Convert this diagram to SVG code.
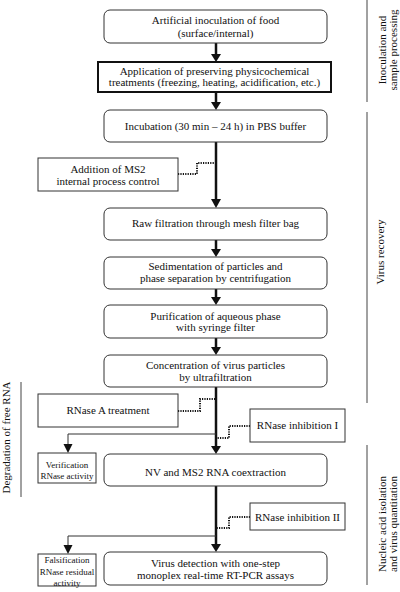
<svg xmlns="http://www.w3.org/2000/svg" width="400" height="592" viewBox="0 0 400 592">
<style>
text{font-family:"Liberation Serif","Times New Roman",serif;font-size:11px;fill:#111;text-anchor:middle}
.s{font-size:9px}
.box{fill:#fff;stroke:#333;stroke-width:1}
.thick{fill:#fff;stroke:#111;stroke-width:2}
.main{stroke:#111;stroke-width:2.5;fill:none}
.thin{stroke:#333;stroke-width:1;fill:none}
.dot{stroke:#111;stroke-width:2;fill:none;stroke-dasharray:1.2,1.2}
.br{stroke:#444;stroke-width:1}
.head{fill:#111}
</style>
<rect width="400" height="592" fill="#fff"/>
<g id="connectors">
<line class="main" x1="216" y1="43" x2="216" y2="55"/>
<polygon class="head" points="211,54 221,54 216,62"/>
<line class="main" x1="216" y1="92" x2="216" y2="103"/>
<polygon class="head" points="211,102 221,102 216,110"/>
<line class="main" x1="216" y1="142" x2="216" y2="200"/>
<polygon class="head" points="211,199 221,199 216,208"/>
<line class="main" x1="216" y1="240" x2="216" y2="250"/>
<polygon class="head" points="211,249 221,249 216,257"/>
<line class="main" x1="216" y1="289" x2="216" y2="298"/>
<polygon class="head" points="211,297 221,297 216,305"/>
<line class="main" x1="216" y1="338" x2="216" y2="348"/>
<polygon class="head" points="211,347 221,347 216,355"/>
<line class="main" x1="216" y1="387" x2="216" y2="447"/>
<polygon class="head" points="211,446 221,446 216,454"/>
<line class="main" x1="216" y1="486" x2="216" y2="545"/>
<polygon class="head" points="211,544 221,544 216,552"/>
<polyline class="thin" points="216,434 68,434 68,445"/>
<polygon class="head" points="63.5,444 72.5,444 68,453"/>
<polyline class="thin" points="216,536 68,536 68,546"/>
<polygon class="head" points="63.5,545 72.5,545 68,554"/>
<path class="dot" d="M178,174 H197 V163 H215"/>
<path class="dot" d="M178,411 H200 V399 H215"/>
<path class="dot" d="M250,426 H229 V438 H217"/>
<path class="dot" d="M250,517 H229 V528 H217"/>
</g>
<g id="n1"><rect class="box" x="104" y="10" width="223" height="33" rx="6"/><text x="215.5" y="24">Artificial inoculation of food</text><text x="215.5" y="37">(surface/internal)</text></g>
<g id="n2"><rect class="thick" x="98" y="62" width="233" height="30"/><text x="214.5" y="74.5">Application of preserving physicochemical</text><text x="214.5" y="86">treatments (freezing, heating, acidification, etc.)</text></g>
<g id="n3"><rect class="box" x="104" y="110" width="223" height="32" rx="6"/><text x="215.5" y="130">Incubation (30 min – 24 h) in PBS buffer</text></g>
<g id="n_ms2"><rect class="box" x="38" y="158" width="140" height="33"/><text x="108" y="172.5">Addition of MS2</text><text x="108" y="184.5">internal process control</text></g>
<g id="n4"><rect class="box" x="104" y="208" width="223" height="32" rx="6"/><text x="215.5" y="227">Raw filtration through mesh filter bag</text></g>
<g id="n5"><rect class="box" x="104" y="257" width="223" height="32" rx="6"/><text x="215.5" y="270">Sedimentation of particles and</text><text x="215.5" y="282">phase separation by centrifugation</text></g>
<g id="n6"><rect class="box" x="104" y="305" width="223" height="33" rx="6"/><text x="215.5" y="319.5">Purification of aqueous phase</text><text x="215.5" y="331">with syringe filter</text></g>
<g id="n7"><rect class="box" x="104" y="355" width="223" height="32" rx="6"/><text x="215.5" y="368.5">Concentration of virus particles</text><text x="215.5" y="381">by ultrafiltration</text></g>
<g id="n_rnasea"><rect class="box" x="38" y="394" width="140" height="33"/><text x="108" y="414">RNase A treatment</text></g>
<g id="n_inh1"><rect class="box" x="250" y="409" width="95" height="33"/><text x="297.5" y="429">RNase inhibition I</text></g>
<g id="n_verif"><rect class="box" x="38" y="453" width="58" height="30"/><text class="s" x="67" y="467.5">Verification</text><text class="s" x="67" y="478.5">RNase activity</text></g>
<g id="n8"><rect class="box" x="104" y="454" width="223" height="32" rx="6"/><text x="215.5" y="475.5">NV and MS2 RNA coextraction</text></g>
<g id="n_inh2"><rect class="box" x="250" y="503" width="95" height="27"/><text x="297.5" y="521">RNase inhibition II</text></g>
<g id="n9"><rect class="box" x="104" y="552" width="223" height="33" rx="6"/><text x="215.5" y="567">Virus detection with one-step</text><text x="215.5" y="579">monoplex real-time RT-PCR assays</text></g>
<g id="n_fals"><rect class="box" x="38" y="554" width="58" height="32"/><text class="s" x="67" y="563">Falsification</text><text class="s" x="67" y="574.5">RNase residual</text><text class="s" x="67" y="586">activity</text></g>
<g id="labels">
<line class="br" x1="367" y1="0" x2="367" y2="102"/>
<line class="br" x1="367" y1="112" x2="367" y2="403"/>
<line class="br" x1="367" y1="445" x2="367" y2="585"/>
<line class="br" x1="21" y1="382" x2="21" y2="497"/>
<text transform="translate(386,50) rotate(-90)">Inoculation and</text>
<text transform="translate(397,50) rotate(-90)">sample processing</text>
<text transform="translate(384,252) rotate(-90)">Virus recovery</text>
<text transform="translate(386,524) rotate(-90)">Nucleic acid isolation</text>
<text transform="translate(397,524) rotate(-90)">and virus quantitation</text>
<text transform="translate(10,437.5) rotate(-90)">Degradation of free RNA</text>
</g>
</svg>
